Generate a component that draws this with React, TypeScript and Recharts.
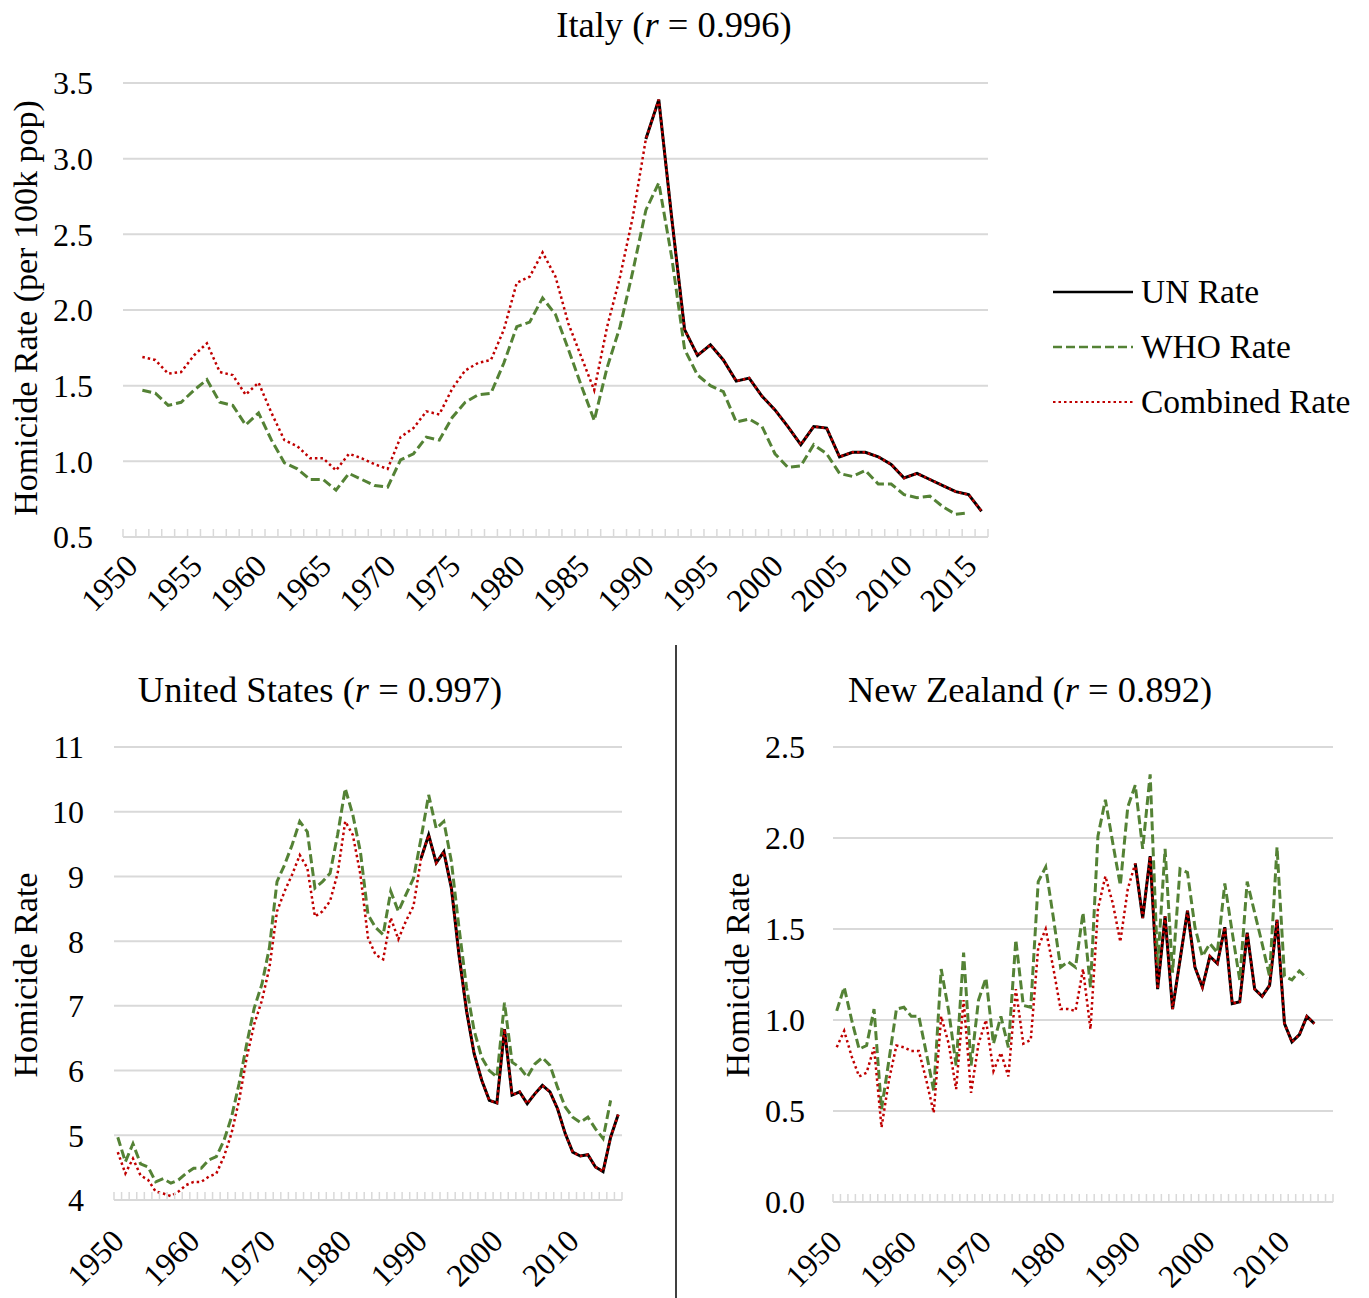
import React from 'react'
import { LineChart, Line, XAxis, YAxis, CartesianGrid, Legend } from 'recharts'

const FONT = '"Liberation Serif", "Times New Roman", serif'
const GRID = '#d9d9d9'

const years = [
  1950, 1951, 1952, 1953, 1954, 1955, 1956, 1957, 1958, 1959,
  1960, 1961, 1962, 1963, 1964, 1965, 1966, 1967, 1968, 1969,
  1970, 1971, 1972, 1973, 1974, 1975, 1976, 1977, 1978, 1979,
  1980, 1981, 1982, 1983, 1984, 1985, 1986, 1987, 1988, 1989,
  1990, 1991, 1992, 1993, 1994, 1995, 1996, 1997, 1998, 1999,
  2000, 2001, 2002, 2003, 2004, 2005, 2006, 2007, 2008, 2009,
  2010, 2011, 2012, 2013, 2014, 2015, 2016,
]

// Italy
const italyUN = [
  null, null, null, null, null, null, null, null, null, null,
  null, null, null, null, null, null, null, null, null, null,
  null, null, null, null, null, null, null, null, null, null,
  null, null, null, null, null, null, null, null, null, null,
  3.13, 3.39, 2.61, 1.87, 1.70, 1.77, 1.67, 1.53, 1.55, 1.43,
  1.34, 1.23, 1.11, 1.23, 1.22, 1.03, 1.06, 1.06, 1.03, 0.98,
  0.89, 0.92, 0.88, 0.84, 0.80, 0.78, 0.67,
]
const italyWHO = [
  null, 1.47, 1.45, 1.37, 1.39, 1.47, 1.54, 1.39, 1.37, 1.24,
  1.32, 1.14, 0.99, 0.95, 0.88, 0.88, 0.81, 0.92, 0.88, 0.84,
  0.83, 1.01, 1.05, 1.16, 1.14, 1.29, 1.39, 1.44, 1.45, 1.65,
  1.89, 1.92, 2.08, 1.97, 1.74, 1.50, 1.27, 1.62, 1.89, 2.26,
  2.66, 2.84, 2.35, 1.74, 1.57, 1.50, 1.46, 1.26, 1.28, 1.23,
  1.05, 0.96, 0.97, 1.11, 1.05, 0.92, 0.90, 0.94, 0.85, 0.85,
  0.78, 0.76, 0.77, 0.70, 0.65, 0.66, null,
]
const italyCombined = [
  null, 1.69, 1.67, 1.58, 1.59, 1.70, 1.78, 1.59, 1.57, 1.44,
  1.52, 1.32, 1.14, 1.10, 1.02, 1.02, 0.94, 1.05, 1.02, 0.98,
  0.95, 1.16, 1.22, 1.33, 1.31, 1.48, 1.60, 1.65, 1.67, 1.87,
  2.18, 2.22, 2.38, 2.22, 1.91, 1.69, 1.47, 1.89, 2.22, 2.62,
  3.13, 3.39, 2.61, 1.87, 1.70, 1.77, 1.67, 1.53, 1.55, 1.43,
  1.34, 1.23, 1.11, 1.23, 1.22, 1.03, 1.06, 1.06, 1.03, 0.98,
  0.89, 0.92, 0.88, 0.84, 0.80, 0.78, 0.67,
]

// United States
const usUN = [
  null, null, null, null, null, null, null, null, null, null,
  null, null, null, null, null, null, null, null, null, null,
  null, null, null, null, null, null, null, null, null, null,
  null, null, null, null, null, null, null, null, null, null,
  9.28, 9.64, 9.21, 9.38, 8.82, 7.79, 6.92, 6.26, 5.85, 5.54,
  5.50, 6.64, 5.62, 5.67, 5.49, 5.64, 5.77, 5.67, 5.41, 5.03,
  4.74, 4.68, 4.70, 4.51, 4.44, 4.97, 5.32,
]
const usWHO = [
  4.97, 4.59, 4.87, 4.56, 4.51, 4.28, 4.33, 4.26, 4.31, 4.41,
  4.49, 4.49, 4.62, 4.67, 4.92, 5.28, 5.80, 6.41, 6.97, 7.33,
  7.90, 8.92, 9.18, 9.49, 9.85, 9.69, 8.82, 8.92, 9.05, 9.65,
  10.36, 9.95, 9.38, 8.41, 8.21, 8.10, 8.77, 8.46, 8.72, 8.97,
  9.59, 10.26, 9.74, 9.85, 9.23, 8.21, 7.28, 6.62, 6.20, 6.00,
  5.90, 7.05, 6.13, 6.05, 5.90, 6.10, 6.20, 6.08, 5.74, 5.44,
  5.28, 5.20, 5.28, 5.10, 4.95, 5.54, null,
]
const usCombined = [
  4.74, 4.41, 4.64, 4.38, 4.31, 4.13, 4.10, 4.06, 4.13, 4.23,
  4.28, 4.28, 4.36, 4.41, 4.67, 5.03, 5.54, 6.20, 6.72, 7.08,
  7.59, 8.46, 8.77, 9.03, 9.33, 9.13, 8.38, 8.46, 8.62, 9.05,
  9.85, 9.64, 9.03, 8.05, 7.79, 7.72, 8.36, 8.03, 8.31, 8.54,
  9.28, 9.64, 9.21, 9.38, 8.82, 7.79, 6.92, 6.26, 5.85, 5.54,
  5.50, 6.64, 5.62, 5.67, 5.49, 5.64, 5.77, 5.67, 5.41, 5.03,
  4.74, 4.68, 4.70, 4.51, 4.44, 4.97, 5.32,
]

// New Zealand
const nzUN = [
  null, null, null, null, null, null, null, null, null, null,
  null, null, null, null, null, null, null, null, null, null,
  null, null, null, null, null, null, null, null, null, null,
  null, null, null, null, null, null, null, null, null, null,
  1.86, 1.56, 1.90, 1.17, 1.57, 1.06, 1.33, 1.60, 1.29, 1.18,
  1.35, 1.31, 1.51, 1.09, 1.10, 1.48, 1.17, 1.13, 1.19, 1.55,
  0.98, 0.88, 0.92, 1.02, 0.98, null, null,
]
const nzWHO = [
  1.05, 1.18, 1.00, 0.84, 0.86, 1.06, 0.51, 0.78, 1.06, 1.07,
  1.02, 1.02, 0.82, 0.61, 1.28, 1.05, 0.75, 1.37, 0.75, 1.11,
  1.23, 0.87, 1.02, 0.85, 1.44, 1.08, 1.07, 1.76, 1.84, 1.57,
  1.29, 1.32, 1.29, 1.59, 1.18, 2.01, 2.21, 1.97, 1.74, 2.17,
  2.29, 1.94, 2.35, 1.30, 1.94, 1.26, 1.83, 1.81, 1.51, 1.35,
  1.42, 1.37, 1.75, 1.48, 1.22, 1.76, 1.59, 1.42, 1.24, 1.95,
  1.24, 1.22, 1.27, 1.23, null, null, null,
]
const nzCombined = [
  0.85, 0.94, 0.80, 0.69, 0.71, 0.85, 0.41, 0.67, 0.86, 0.85,
  0.83, 0.83, 0.67, 0.49, 1.02, 0.87, 0.62, 1.11, 0.60, 0.87,
  1.00, 0.72, 0.82, 0.69, 1.17, 0.87, 0.89, 1.40, 1.50, 1.29,
  1.06, 1.06, 1.05, 1.28, 0.95, 1.61, 1.79, 1.64, 1.43, 1.72,
  1.86, 1.56, 1.90, 1.17, 1.57, 1.06, 1.33, 1.60, 1.29, 1.18,
  1.35, 1.31, 1.51, 1.09, 1.10, 1.48, 1.17, 1.13, 1.19, 1.55,
  0.98, 0.88, 0.92, 1.02, 0.98, null, null,
]

const italyTicksY = [0.5, 1.0, 1.5, 2.0, 2.5, 3.0, 3.5]
const usTicksY = [4, 5, 6, 7, 8, 9, 10, 11]
const nzTicksY = [0.0, 0.5, 1.0, 1.5, 2.0, 2.5]
const italyYearLabels = [1950, 1955, 1960, 1965, 1970, 1975, 1980, 1985, 1990, 1995, 2000, 2005, 2010, 2015]
const decadeLabels = [1950, 1960, 1970, 1980, 1990, 2000, 2010]

const seriesNames = ['UN Rate', 'WHO Rate', 'Combined Rate']
const seriesStyle = [
  { key: 'un', color: '#000000', width: 3, dash: undefined },
  { key: 'who', color: '#548235', width: 3, dash: '9 4' },
  { key: 'comb', color: '#c00000', width: 2.5, dash: '2.5 3' },
]

const toRows = (un: (number | null)[], who: (number | null)[], comb: (number | null)[]) =>
  years.map((year, i) => ({ year, un: un[i], who: who[i], comb: comb[i] }))

const makeTick = (bw: number, labels: number[], dx: number, dy: number) => (props: any) => {
  const { x, y, payload, index } = props
  const yr = Number(payload.value)
  const tx = x + dx
  const ty = y + dy
  return (
    <g>
      <line x1={x - bw / 2} x2={x - bw / 2} y1={y} y2={y - 8} stroke={GRID} strokeWidth={1.5} />
      {index === years.length - 1 && (
        <line x1={x + bw / 2} x2={x + bw / 2} y1={y} y2={y - 8} stroke={GRID} strokeWidth={1.5} />
      )}
      {labels.includes(yr) && (
        <text x={tx} y={ty} textAnchor="end" fontFamily={FONT} fontSize={32} fill="#000"
          transform={`rotate(-45 ${tx} ${ty})`}>
          {yr}
        </text>
      )}
    </g>
  )
}

const renderLegend = () => (
  <div style={{ fontFamily: FONT, fontSize: 33.5, color: '#000' }}>
    {seriesStyle.map((s, i) => (
      <div key={s.key} style={{ display: 'flex', alignItems: 'center', height: 55 }}>
        <svg width={80} height={10}>
          <line x1={0} x2={80} y1={5} y2={5} stroke={s.color} strokeWidth={s.width - 0.5} strokeDasharray={s.dash} />
        </svg>
        <span style={{ marginLeft: 8, whiteSpace: 'nowrap' }}>{seriesNames[i]}</span>
      </div>
    ))}
  </div>
)

type PanelProps = {
  rows: any[]
  width: number
  height: number
  margin: { top: number; right: number; left: number; bottom: number }
  yWidth: number
  xHeight: number
  domain: [number, number]
  ticksY: number[]
  decimals: number
  yLabels: number[]
  labelDx: number
  labelDy: number
  tickGap: number
  legend?: boolean
}

const Panel = (p: PanelProps) => {
  const plotW = p.width - p.margin.left - p.margin.right - p.yWidth
  const bw = plotW / years.length
  return (
    <LineChart width={p.width} height={p.height} data={p.rows} margin={p.margin}>
      <CartesianGrid vertical={false} stroke={GRID} strokeWidth={2} />
      <XAxis
        dataKey="year"
        interval={0}
        height={p.xHeight}
        padding={{ left: bw / 2, right: bw / 2 }}
        axisLine={{ stroke: GRID, strokeWidth: 2 }}
        tickLine={false}
        tickSize={0}
        tickMargin={0}
        tick={makeTick(bw, p.yLabels, p.labelDx, p.labelDy)}
      />
      <YAxis
        type="number"
        domain={p.domain}
        ticks={p.ticksY}
        interval={0}
        width={p.yWidth}
        axisLine={false}
        tickLine={false}
        tickSize={0}
        tickMargin={p.tickGap}
        tickFormatter={(v: number) => v.toFixed(p.decimals)}
        tick={{ fill: '#000', fontSize: 32, fontFamily: FONT }}
      />
      {seriesStyle.map((s, i) => (
        <Line
          key={s.key}
          dataKey={s.key}
          name={seriesNames[i]}
          type="linear"
          stroke={s.color}
          strokeWidth={s.width}
          strokeDasharray={s.dash}
          dot={false}
          activeDot={false}
          isAnimationActive={false}
        />
      ))}
      {p.legend && (
        <Legend
          layout="vertical"
          align="center"
          verticalAlign="middle"
          wrapperStyle={{ left: 1053, top: 264, width: 316 }}
          content={renderLegend}
        />
      )}
    </LineChart>
  )
}

const Title = ({ x, y, name, r }: { x: number; y: number; name: string; r: string }) => (
  <text x={x} y={y} textAnchor="middle" fontFamily={FONT} fontSize={36.5} fill="#000">
    {name} (<tspan fontStyle="italic">r</tspan> = {r})
  </text>
)

const App = () => {
  return (
    <div style={{ position: 'absolute', left: 0, top: 0, width: 1369, height: 1298, background: '#fff' }}>
      <div style={{ position: 'absolute', left: 0, top: 0 }}>
        <Panel
          rows={toRows(italyUN, italyWHO, italyCombined)}
          width={1369}
          height={640}
          margin={{ top: 83, right: 381, left: 0, bottom: 0 }}
          yWidth={123}
          xHeight={103}
          domain={[0.5, 3.5]}
          ticksY={italyTicksY}
          decimals={1}
          yLabels={italyYearLabels}
          labelDx={10}
          labelDy={31}
          tickGap={30}
          legend
        />
      </div>
      <div style={{ position: 'absolute', left: 0, top: 640 }}>
        <Panel
          rows={toRows(usUN, usWHO, usCombined)}
          width={676}
          height={658}
          margin={{ top: 107, right: 54, left: 0, bottom: 0 }}
          yWidth={114}
          xHeight={98}
          domain={[4, 11]}
          ticksY={usTicksY}
          decimals={0}
          yLabels={decadeLabels}
          labelDx={8}
          labelDy={43}
          tickGap={30}
        />
      </div>
      <div style={{ position: 'absolute', left: 676, top: 640 }}>
        <Panel
          rows={toRows(nzUN, nzWHO, nzCombined)}
          width={693}
          height={658}
          margin={{ top: 107, right: 36, left: 0, bottom: 0 }}
          yWidth={157}
          xHeight={96}
          domain={[0, 2.5]}
          ticksY={nzTicksY}
          decimals={1}
          yLabels={decadeLabels}
          labelDx={7}
          labelDy={42}
          tickGap={28}
        />
      </div>
      <svg width={1369} height={1298} style={{ position: 'absolute', left: 0, top: 0, pointerEvents: 'none' }}>
        <Title x={674} y={37} name="Italy" r="0.996" />
        <Title x={320} y={702} name="United States" r="0.997" />
        <Title x={1030} y={702} name="New Zealand" r="0.892" />
        <text transform="rotate(-90)" x={-308} y={37} textAnchor="middle" fontFamily={FONT} fontSize={34} fill="#000">
          Homicide Rate (per 100k pop)
        </text>
        <text transform="rotate(-90)" x={-975} y={37} textAnchor="middle" fontFamily={FONT} fontSize={34} fill="#000">
          Homicide Rate
        </text>
        <text transform="rotate(-90)" x={-975} y={749} textAnchor="middle" fontFamily={FONT} fontSize={34} fill="#000">
          Homicide Rate
        </text>
        <line x1={676} x2={676} y1={645} y2={1298} stroke="#000" strokeWidth={1.5} />
      </svg>
    </div>
  )
}

export default App
